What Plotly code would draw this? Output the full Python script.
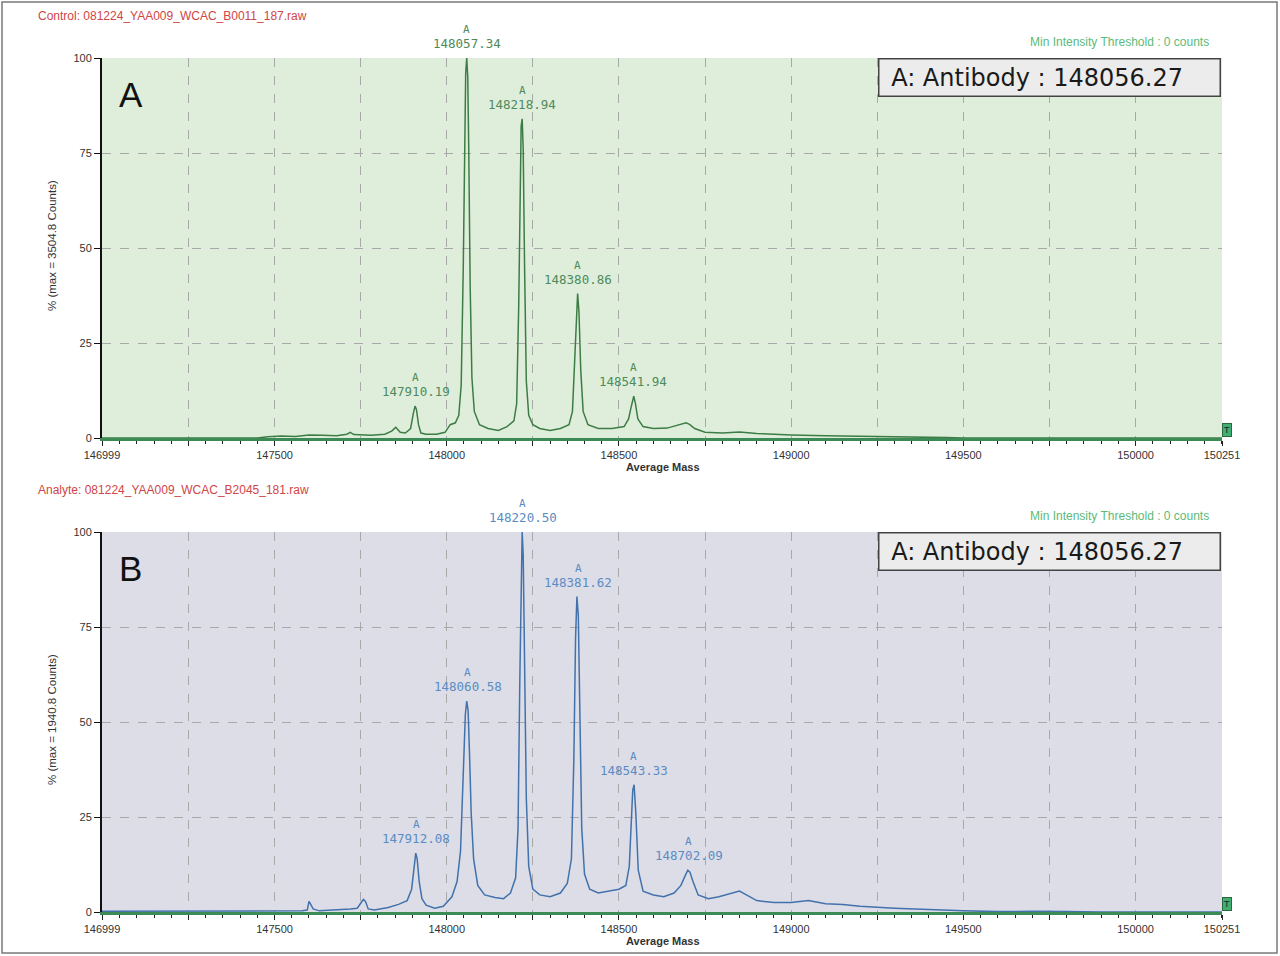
import plotly.graph_objects as go

# ---------------- data ----------------
mass_a = [146999, 147450, 147480, 147520, 147560, 147600, 147640, 147680, 147710, 147720, 147730,
          147780, 147820, 147840, 147852, 147865, 147880, 147895, 147903, 147908, 147912, 147918,
          147925, 147940, 147970, 147995, 148010, 148025, 148035, 148042, 148048, 148052, 148055,
          148058, 148061, 148064, 148068, 148073, 148080, 148095, 148120, 148150, 148175, 148195,
          148203, 148209, 148213, 148216, 148219, 148222, 148226, 148231, 148238, 148250, 148270,
          148300, 148330, 148355, 148365, 148371, 148376, 148380, 148384, 148389, 148396, 148410,
          148440, 148480, 148515, 148528, 148535, 148540, 148543, 148548, 148555, 148570, 148600,
          148640, 148675, 148695, 148705, 148720, 148750, 148800, 148850, 148900, 148950, 149000,
          149100, 149200, 149300, 149400, 149450, 149500, 150251]
intensity_a = [0, 0, 0.3, 0.5, 0.4, 0.8, 0.7, 0.6, 1.0, 1.5, 0.9,
               0.7, 1.0, 1.8, 2.8, 1.5, 1.3, 2.5, 6.5, 8.4, 7.5, 3.5,
               1.3, 1.0, 1.0, 1.5, 3.5, 4.0, 6, 14, 45, 80, 96,
               100, 95, 75, 40, 16, 7, 3.5, 2.5, 2.0, 3, 4.5,
               9, 35, 68, 82, 84, 76, 45, 15, 6, 3.5, 2.5,
               2, 2.5, 3.5, 7, 20, 34, 38, 33, 18, 7, 3.5,
               2.5, 2.5, 3, 5, 8, 10.5, 11, 9, 5, 3, 2.5,
               2.6, 3.5, 4.0, 3.6, 2.5, 1.5, 1.3, 1.6, 1.2, 1.0, 0.8,
               0.6, 0.5, 0.3, 0.2, 0.1, 0, 0]

mass_b = [146999, 147580, 147595, 147600, 147605, 147612, 147630, 147680, 147720, 147740, 147752,
          147758, 147764, 147772, 147790, 147830, 147860, 147885, 147898, 147905, 147910, 147914,
          147920, 147928, 147940, 147965, 147990, 148015, 148030, 148040, 148048, 148054, 148058,
          148062, 148066, 148071, 148078, 148090, 148110, 148140, 148165, 148185, 148200, 148207,
          148212, 148216, 148219, 148222, 148226, 148231, 148238, 148250, 148270, 148300, 148330,
          148350, 148362, 148369, 148374, 148378, 148382, 148386, 148392, 148400, 148415, 148440,
          148470, 148500, 148520, 148530, 148536, 148540, 148544, 148549, 148556, 148570, 148600,
          148630, 148660, 148680, 148692, 148700, 148706, 148715, 148730, 148760, 148790, 148830,
          148850, 148870, 148900, 148950, 149000, 149050, 149100, 149150, 149200, 149300, 149400,
          149500, 149600, 149700, 149800, 149900, 150251]
intensity_b = [0.2, 0.3, 0.5, 2.8, 2.0, 0.8, 0.3, 0.5, 0.8, 1.0, 2.5,
               3.3, 2.8, 0.8, 0.5, 1.2, 2.0, 3.0, 6, 12, 15.5, 14,
               8, 3.5, 1.8, 1.0, 1.5, 4, 8, 16, 36, 52, 55.5,
               53, 42, 26, 14, 7, 4.5, 3.8, 3.5, 5, 9, 22,
               60, 92, 100, 94, 68, 30, 12, 6, 4.5, 4, 5,
               7.5, 14, 40, 72, 83, 78, 55, 22, 10, 6, 5,
               5.5, 6, 7, 12, 24, 32, 33.5, 26, 11, 5.5, 4.5,
               4, 5, 7, 9.5, 11, 10.5, 8, 4.5, 3.5, 4, 5,
               5.5, 4.5, 3, 2.5, 2.5, 3, 2.2, 2.0, 1.5, 1.0, 0.6,
               0.3, 0.1, 0.2, 0.1, 0.0, 0]

peak_mass_a = [147910.19, 148057.34, 148218.94, 148380.86, 148541.94]
peak_int_a = [8.4, 100, 84, 38, 11]
peak_text_a = ["147910.19", "148057.34", "148218.94", "148380.86", "148541.94"]

peak_mass_b = [147912.08, 148060.58, 148220.50, 148381.62, 148543.33, 148702.09]
peak_int_b = [15.5, 55.5, 100, 83, 33.5, 11]
peak_text_b = ["147912.08", "148060.58", "148220.50", "148381.62", "148543.33", "148702.09"]

x_tick_vals = [146999, 147250, 147500, 147750, 148000, 148250, 148500, 148750,
               149000, 149250, 149500, 149750, 150000, 150251]
x_tick_text = ["146999", "", "147500", "", "148000", "", "148500", "",
               "149000", "", "149500", "", "150000", "150251"]
y_tick_vals = [0, 25, 50, 75, 100]
y_tick_text = ["0", "25", "50", "75", "100"]

title_a = "Control: 081224_YAA009_WCAC_B0011_187.raw"
title_b = "Analyte: 081224_YAA009_WCAC_B2045_181.raw"
ytitle_a = "% (max = 3504.8 Counts)"
ytitle_b = "% (max = 1940.8 Counts)"
box_text = "A: Antibody : 148056.27"
threshold_text = "Min Intensity Threshold : 0 counts"

# ---------------- layout helpers ----------------
W, H = 1280, 956
def px(x):
    return x / W
def py(y):
    return 1 - y / H

X0, X1 = 102, 1222
A_TOP, A_BOT = 58, 438
B_TOP, B_BOT = 532, 912

GREEN_LINE = "#3d7d45"
GREEN_TXT = "#4e8a5a"
BLUE_LINE = "#4272ac"
BLUE_TXT = "#5a8cc4"
SANS = "Liberation Sans, Arial"
MONO = "DejaVu Sans Mono, monospace"

fig = go.Figure()
fig.add_trace(go.Scatter(x=mass_a, y=intensity_a, mode="lines",
                         line=dict(color=GREEN_LINE, width=1.5),
                         xaxis="x", yaxis="y", showlegend=False, hoverinfo="skip"))
fig.add_trace(go.Scatter(x=mass_b, y=intensity_b, mode="lines",
                         line=dict(color=BLUE_LINE, width=1.5),
                         xaxis="x2", yaxis="y2", showlegend=False, hoverinfo="skip"))

def xaxis_cfg(anchor):
    return dict(
        domain=[px(X0), px(X1)], anchor=anchor, range=[146999, 150251],
        tickmode="array", tickvals=x_tick_vals, ticktext=x_tick_text,
        ticks="outside", ticklen=5, tickwidth=1.2, tickcolor="#222",
        showgrid=True, gridcolor="#a8a8a8", griddash="dash", gridwidth=1,
        showline=True, linecolor="#3c8a55", linewidth=2.5,
        zeroline=False, automargin=False,
        tickfont=dict(family=SANS, size=11, color="#333"),
        minor=dict(ticks="outside", ticklen=3, tickwidth=1, tickcolor="#222",
                   tick0=147000, dtick=50, showgrid=False),
        fixedrange=True,
    )

def yaxis_cfg(anchor, top, bot):
    return dict(
        domain=[py(bot), py(top)], anchor=anchor, range=[0, 100],
        tickmode="array", tickvals=y_tick_vals, ticktext=y_tick_text,
        ticks="outside", ticklen=6, tickwidth=1.2, tickcolor="#111",
        showgrid=True, gridcolor="#a8a8a8", griddash="dash", gridwidth=1,
        showline=True, linecolor="#111", linewidth=2,
        zeroline=False, automargin=False,
        tickfont=dict(family=SANS, size=11, color="#333"),
        fixedrange=True,
    )

annotations = []
shapes = []

# panel backgrounds
shapes.append(dict(type="rect", xref="x domain", yref="y domain", x0=0, x1=1, y0=0, y1=1,
                   fillcolor="#dfeedb", line=dict(width=0), layer="below"))
shapes.append(dict(type="rect", xref="x2 domain", yref="y2 domain", x0=0, x1=1, y0=0, y1=1,
                   fillcolor="#dddde7", line=dict(width=0), layer="below"))
# outer frame
shapes.append(dict(type="rect", xref="paper", yref="paper", x0=px(2), x1=px(1277),
                   y0=py(953), y1=py(2), line=dict(color="#7a7a7a", width=1.5)))

for (xr, yr, top, bot, title, ytitle, letter, pm, pi, pt, col) in [
    ("x", "y", A_TOP, A_BOT, title_a, ytitle_a, "A", peak_mass_a, peak_int_a, peak_text_a, GREEN_TXT),
    ("x2", "y2", B_TOP, B_BOT, title_b, ytitle_b, "B", peak_mass_b, peak_int_b, peak_text_b, BLUE_TXT),
]:
    annotations.append(dict(xref="paper", yref="paper", x=px(36), y=py(top - 42),
                            xanchor="left", yanchor="middle", showarrow=False, text=title,
                            font=dict(family=SANS, size=12, color="#d04545")))
    annotations.append(dict(xref="paper", yref="paper", x=px(1211), y=py(top - 16),
                            xanchor="right", yanchor="middle", showarrow=False, text=threshold_text,
                            font=dict(family=SANS, size=12, color="#5cba78")))
    annotations.append(dict(xref="paper", yref="paper", x=px(52), y=py((top + bot) / 2 - 2),
                            xanchor="center", yanchor="middle", showarrow=False, text=ytitle,
                            textangle=-90,
                            font=dict(family=SANS, size=11.5, color="#333")))
    annotations.append(dict(xref="paper", yref="paper", x=px(663), y=py(bot + 29),
                            xanchor="center", yanchor="middle", showarrow=False, text="<b>Average Mass</b>",
                            font=dict(family=SANS, size=11, color="#333")))
    annotations.append(dict(xref="paper", yref="paper", x=px(117), y=py(top + 36),
                            xanchor="left", yanchor="middle", showarrow=False, text=letter,
                            font=dict(family=SANS, size=35, color="#111")))
    annotations.append(dict(xref="paper", yref="paper", x=px(1221), y=py(top),
                            xanchor="right", yanchor="top", showarrow=False,
                            text="&nbsp;" + box_text,
                            width=332, height=28, align="left", valign="middle",
                            bgcolor="#ececec", bordercolor="#444", borderwidth=1.5, borderpad=4,
                            font=dict(family="DejaVu Sans, Verdana", size=24, color="#1a1a1a")))
    annotations.append(dict(xref=xr, yref=yr, x=150251, y=0, xanchor="left", yanchor="bottom",
                            showarrow=False, text="T", xshift=0, yshift=1,
                            bgcolor="#3fae6e", bordercolor="#2a6a3f", borderwidth=1, borderpad=1,
                            font=dict(family=SANS, size=9, color="#123")))
    for m, v, t in zip(pm, pi, pt):
        annotations.append(dict(xref=xr, yref=yr, x=m, y=v, xanchor="center", yanchor="bottom",
                                showarrow=False, text=t, yshift=6, borderpad=0,
                                font=dict(family=MONO, size=12.5, color=col)))
        annotations.append(dict(xref=xr, yref=yr, x=m, y=v, xanchor="center", yanchor="bottom",
                                showarrow=False, text="A", yshift=21, borderpad=0,
                                font=dict(family=MONO, size=11, color=col)))

fig.update_layout(
    width=W, height=H,
    margin=dict(l=0, r=0, t=0, b=0),
    paper_bgcolor="white", plot_bgcolor="rgba(0,0,0,0)",
    xaxis=xaxis_cfg("y"), yaxis=yaxis_cfg("x", A_TOP, A_BOT),
    xaxis2=xaxis_cfg("y2"), yaxis2=yaxis_cfg("x2", B_TOP, B_BOT),
    annotations=annotations, shapes=shapes,
    showlegend=False,
)

fig.write_html("out.html", config={"displayModeBar": False},
               post_script="document.body.style.margin='0';")
